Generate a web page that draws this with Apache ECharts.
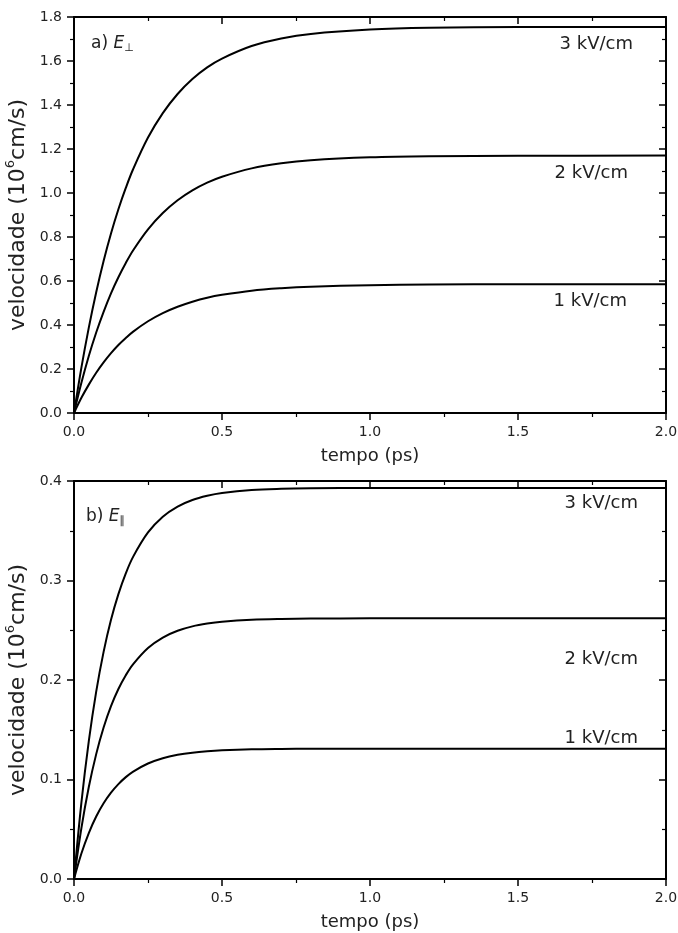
<!DOCTYPE html>
<html>
<head>
<meta charset="utf-8">
<script src="https://cdn.jsdelivr.net/npm/echarts@6/dist/echarts.min.js"></script>
<style>
html,body{margin:0;padding:0;background:#fff;}
#c{width:678px;height:933px;}
</style>
</head>
<body>
<div id="c"></div>
<script>
// time (ps)
const tempo = [0, 0.025, 0.05, 0.075, 0.1, 0.125, 0.15, 0.175, 0.2, 0.25, 0.3, 0.35, 0.4, 0.45, 0.5, 0.6, 0.7, 0.8, 1.0, 1.2, 1.5, 2.0];
// panel a) E perpendicular (10^6 cm/s)
const perp3 = [0, 0.206, 0.388, 0.549, 0.691, 0.816, 0.926, 1.023, 1.109, 1.252, 1.363, 1.450, 1.518, 1.571, 1.611, 1.668, 1.702, 1.723, 1.743, 1.751, 1.754, 1.755];
const perp2 = [0, 0.137, 0.259, 0.366, 0.460, 0.544, 0.617, 0.682, 0.740, 0.835, 0.909, 0.967, 1.012, 1.047, 1.074, 1.112, 1.135, 1.149, 1.162, 1.167, 1.169, 1.170];
const perp1 = [0, 0.069, 0.129, 0.183, 0.230, 0.272, 0.309, 0.341, 0.370, 0.417, 0.454, 0.483, 0.506, 0.524, 0.537, 0.556, 0.567, 0.574, 0.581, 0.584, 0.585, 0.585];
// panel b) E parallel (10^6 cm/s)
const par3 = [0, 0.0768, 0.1386, 0.1883, 0.2283, 0.2605, 0.2863, 0.3072, 0.3240, 0.3483, 0.3641, 0.3743, 0.3809, 0.3851, 0.3879, 0.3909, 0.3921, 0.3926, 0.3930, 0.3930, 0.3930, 0.3930];
const par2 = [0, 0.0512, 0.0924, 0.1255, 0.1522, 0.1737, 0.1909, 0.2048, 0.2160, 0.2322, 0.2427, 0.2495, 0.2539, 0.2567, 0.2586, 0.2606, 0.2614, 0.2617, 0.2620, 0.2620, 0.2620, 0.2620];
const par1 = [0, 0.0256, 0.0462, 0.0628, 0.0761, 0.0868, 0.0954, 0.1024, 0.1080, 0.1161, 0.1214, 0.1248, 0.1270, 0.1284, 0.1293, 0.1303, 0.1307, 0.1309, 0.1310, 0.1310, 0.1310, 0.1310];
const fieldLabels = ['3 kV/cm', '2 kV/cm', '1 kV/cm'];

const pair = (ys) => tempo.map((t, i) => [t, ys[i]]);
const font = 'DejaVu Sans';
const txt = '#222';
const axisLine = {show: true, onZero: false, lineStyle: {color: '#000', width: 2}};

function xAxes(gi) {
  return [
    {gridIndex: gi, type: 'value', min: 0, max: 2, interval: 0.5, position: 'bottom',
     axisLine, axisTick: {show: true, length: 7, lineStyle: {color: '#000', width: 1.5}},
     minorTick: {show: true, splitNumber: 2, length: 4, lineStyle: {color: '#000', width: 1.2}},
     splitLine: {show: false},
     axisLabel: {fontSize: 14, color: txt, fontFamily: font, margin: 12, formatter: v => v.toFixed(1)},
     name: 'tempo (ps)', nameLocation: 'middle', nameGap: 34,
     nameTextStyle: {fontSize: 18, color: txt, fontFamily: font}},
    {gridIndex: gi, type: 'value', min: 0, max: 2, interval: 0.5, position: 'top',
     axisLine, axisTick: {show: true, inside: true, length: 7, lineStyle: {color: '#000', width: 1.5}},
     minorTick: {show: true, splitNumber: 2, length: 4, lineStyle: {color: '#000', width: 1.2}},
     splitLine: {show: false}, axisLabel: {show: false}}
  ];
}
function yAxes(gi, max, interval) {
  return [
    {gridIndex: gi, type: 'value', min: 0, max, interval, position: 'left',
     axisLine, axisTick: {show: true, length: 7, lineStyle: {color: '#000', width: 1.5}},
     minorTick: {show: true, splitNumber: 2, length: 4, lineStyle: {color: '#000', width: 1.2}},
     splitLine: {show: false},
     axisLabel: {fontSize: 14, color: txt, fontFamily: font, margin: 12, formatter: v => v.toFixed(1)},
     name: '{a|velocidade (10}{s|6}{a|cm/s)}', nameLocation: 'middle', nameGap: 37,
     nameTextStyle: {color: txt, fontFamily: font,
       rich: {a: {fontSize: 22, color: txt, fontFamily: font, lineHeight: 25, verticalAlign: 'bottom'},
              s: {fontSize: 13, color: txt, fontFamily: font, lineHeight: 25, verticalAlign: 'top', padding: [0, 0, 8, 0]}}}},
    {gridIndex: gi, type: 'value', min: 0, max, interval, position: 'right',
     axisLine, axisTick: {show: true, inside: true, length: 7, lineStyle: {color: '#000', width: 1.5}},
     minorTick: {show: true, splitNumber: 2, length: 4, lineStyle: {color: '#000', width: 1.2}},
     splitLine: {show: false}, axisLabel: {show: false}}
  ];
}
function line(data, xi, yi) {
  return {type: 'line', xAxisIndex: xi, yAxisIndex: yi, data: pair(data), showSymbol: false,
    smooth: 0.35, lineStyle: {color: '#000', width: 2}, silent: true, animation: false};
}
function label(text, x, y) {
  return {type: 'text', right: 678 - x, top: y - 8,
    style: {text, fontSize: 18, fontFamily: font, fill: txt}};
}
function panelTag(letter, sub, x, y) {
  return {type: 'text', left: x, top: y, style: {
    text: '{n|' + letter + ') }{e|E}{s|' + sub + '}',
    rich: {n: {fontSize: 17, fontFamily: font, fill: txt},
           e: {fontSize: 17, fontFamily: font, fontStyle: 'italic', fill: txt},
           s: {fontSize: 11, fontFamily: font, fill: txt, padding: [9, 0, 0, 0]}}}};
}

const chart = echarts.init(document.getElementById('c'), null, {renderer: 'canvas'});
chart.setOption({
  animation: false,
  backgroundColor: '#fff',
  grid: [
    {left: 74, right: 12, top: 17, height: 396, containLabel: false, outerBoundsMode: 'none'},
    {left: 74, right: 12, top: 481, height: 398, containLabel: false, outerBoundsMode: 'none'}
  ],
  xAxis: [...xAxes(0), ...xAxes(1)],
  yAxis: [...yAxes(0, 1.8, 0.2), ...yAxes(1, 0.4, 0.1)],
  series: [
    line(perp3, 0, 0), line(perp2, 0, 0), line(perp1, 0, 0),
    line(par3, 2, 2), line(par2, 2, 2), line(par1, 2, 2)
  ],
  graphic: [
    panelTag('a', '⊥', 91, 35),
    panelTag('b', '∥', 86, 508),
    label(fieldLabels[0], 633, 43),
    label(fieldLabels[1], 628, 172),
    label(fieldLabels[2], 627, 300),
    label(fieldLabels[0], 638, 502),
    label(fieldLabels[1], 638, 658),
    label(fieldLabels[2], 638, 737)
  ]
});
</script>
</body>
</html>
